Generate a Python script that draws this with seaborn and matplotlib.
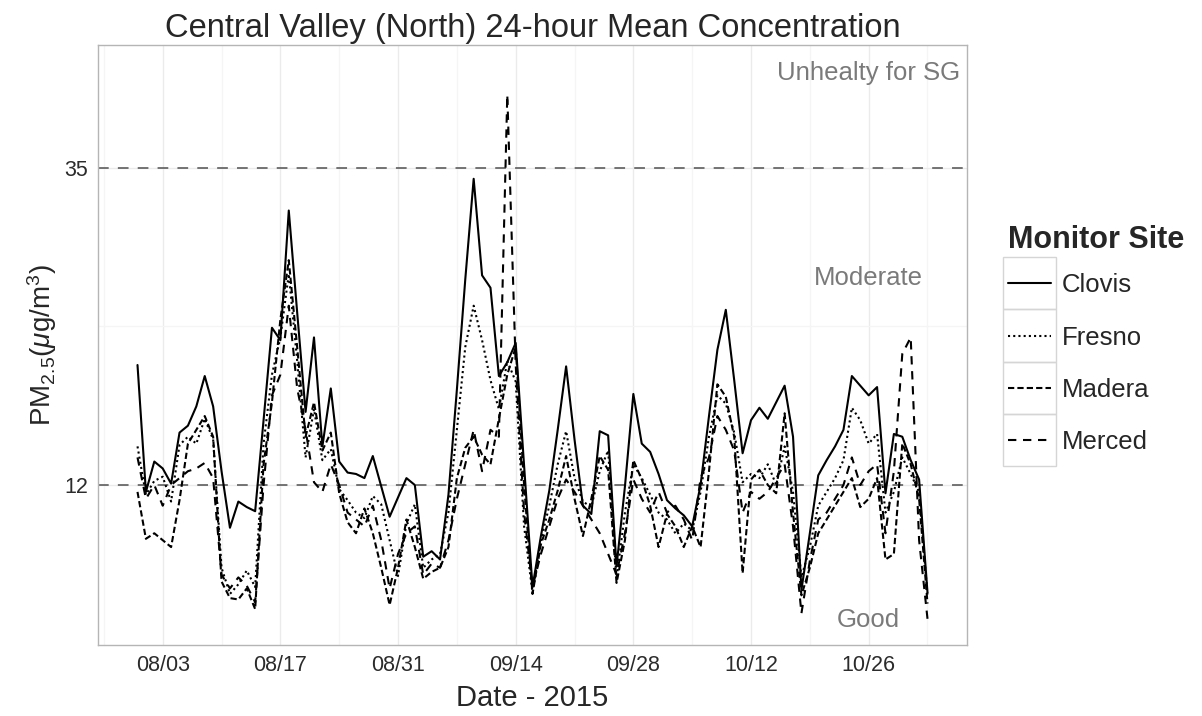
import numpy as np
import pandas as pd
import matplotlib
matplotlib.use("Agg")
import matplotlib.pyplot as plt
import matplotlib.dates as mdates
from matplotlib.lines import Line2D
from matplotlib.patches import Rectangle
import seaborn as sns

# daily 24-hour means, 07/31 - 11/02 2015
dates = pd.date_range("2015-07-31", "2015-11-02", freq="D")

clovis = [20.7, 11.5, 13.7, 13.2, 12.1, 15.8, 16.3, 17.7, 19.9, 17.7,
          13.0, 8.9, 10.8, 10.4, 10.1, 16.7, 23.4, 22.5, 31.9, 24.5,
          17.3, 22.7, 14.8, 19.0, 13.7, 12.9, 12.8, 12.5, 14.1, 11.9,
          9.7, 11.1, 12.5, 12.0, 6.8, 7.2, 6.6, 11.3, 18.9, 26.9,
          34.2, 27.2, 26.3, 19.9, 20.9, 22.3, 13.4, 4.6, 8.3, 11.6,
          16.0, 20.6, 15.3, 10.5, 9.9, 15.9, 15.6, 6.1, 11.9, 18.6,
          15.0, 14.4, 12.8, 10.9, 10.3, 9.8, 9.0, 12.0, 17.0, 21.8,
          24.7, 19.6, 14.3, 16.7, 17.6, 16.8, 18.0, 19.2, 15.5, 4.4,
          8.5, 12.7, 13.8, 14.8, 16.0, 19.9, 19.2, 18.5, 19.1, 11.4,
          15.7, 15.5, 13.8, 12.4, 4.2]
fresno = [14.8, 11.3, 12.3, 12.6, 10.8, 14.9, 15.5, 15.0, 16.8, 15.3,
          6.0, 4.1, 4.8, 5.8, 4.6, 15.0, 20.0, 22.7, 27.3, 21.0,
          14.0, 17.5, 13.8, 14.6, 11.7, 10.9, 10.0, 9.6, 11.2, 10.6,
          8.0, 5.4, 9.2, 10.6, 6.0, 6.6, 7.0, 10.0, 16.0, 22.0,
          25.0, 22.5, 19.6, 17.5, 21.0, 19.5, 9.0, 4.2, 8.0, 10.5,
          13.5, 15.9, 12.5, 10.8, 10.4, 13.0, 14.5, 5.2, 10.0, 13.5,
          12.5, 11.3, 10.0, 9.5, 8.5, 9.2, 8.7, 11.5, 15.5, 18.5,
          17.9, 15.8, 12.2, 12.8, 12.5, 13.5, 12.0, 14.8, 11.5, 5.3,
          7.5, 10.5, 11.5, 12.5, 13.8, 17.6, 16.7, 15.0, 15.7, 10.0,
          11.5, 14.0, 12.8, 11.5, 4.0]
madera = [11.5, 8.1, 8.5, 8.0, 7.5, 10.9, 15.0, 16.0, 17.0, 15.5,
          5.0, 3.8, 3.7, 4.5, 3.0, 13.5, 18.0, 24.0, 28.3, 22.0,
          15.5, 18.0, 14.5, 15.8, 11.4, 9.3, 8.5, 10.3, 8.5, 6.0,
          3.3, 6.0, 9.5, 7.5, 5.2, 5.7, 6.0, 7.5, 12.5, 14.7,
          15.5, 14.2, 13.5, 16.8, 20.0, 22.0, 12.0, 4.1, 7.7, 9.5,
          11.6, 14.1, 11.0, 8.3, 11.0, 14.1, 13.1, 4.9, 8.0, 13.8,
          12.4, 10.5, 7.5, 9.9, 9.0, 7.5, 9.0, 7.5, 13.0, 19.3,
          18.4, 15.5, 5.6, 12.4, 13.1, 12.0, 11.4, 17.2, 10.0, 4.0,
          6.0, 8.5, 9.5, 10.5, 11.5, 12.5, 10.4, 11.0, 12.5, 6.6,
          7.0, 15.0, 13.5, 11.0, 3.4]
merced = [14.0, 11.0, 12.0, 10.5, 12.0, 12.5, 13.0, 13.2, 13.6, 12.5,
          5.5, 4.5, 5.3, 4.7, 3.5, 12.0, 18.5, 20.0, 25.0, 19.0,
          16.0, 12.2, 11.5, 13.5, 12.0, 10.0, 9.5, 9.0, 10.5, 8.0,
          4.5, 7.0, 8.5, 9.0, 5.5, 6.3, 6.0, 8.0, 11.0, 13.5,
          16.0, 13.0, 16.0, 15.5, 40.3, 20.7, 10.0, 4.6, 7.0, 9.0,
          11.0, 12.4, 11.5, 10.5, 9.5, 8.5, 7.0, 5.5, 8.5, 12.4,
          11.0, 10.0, 11.5, 10.0, 10.5, 9.5, 8.0, 12.5, 14.0, 17.0,
          16.0, 14.5, 10.0, 11.5, 11.0, 11.5, 12.5, 13.5, 9.0, 2.7,
          6.5, 9.5, 10.0, 11.0, 12.0, 14.0, 12.0, 13.0, 13.5, 8.5,
          13.0, 21.5, 22.7, 8.0, 2.3]

sites = ["Clovis", "Fresno", "Madera", "Merced"]
thresholds = [12, 35]
zone_labels = ["Unhealty for SG", "Moderate", "Good"]
zone_y = [41.9, 27, 2.2]

df = pd.DataFrame({"Date": list(dates) * 4,
                   "PM25": clovis + fresno + madera + merced,
                   "Monitor Site": np.repeat(sites, len(dates))})

site_dashes = {"Clovis": "", "Fresno": (1, 1.5), "Madera": (3.0, 1.5), "Merced": (4.0, 3.2)}

sns.set_style("white")
plt.rcParams["font.family"] = ["Liberation Sans", "DejaVu Sans"]
plt.rcParams["mathtext.fontset"] = "custom"
plt.rcParams["mathtext.rm"] = "Liberation Sans"
plt.rcParams["mathtext.it"] = "Liberation Sans:italic"

fig = plt.figure(figsize=(12.02, 7.16), dpi=100)
ax = fig.add_axes([98 / 1202, 1 - 645 / 716, 869 / 1202, 600 / 716])

for y in thresholds:
    ax.axhline(y, color="#505050", lw=1.1, dashes=(7, 6), zorder=1)

sns.lineplot(data=df, x="Date", y="PM25", style="Monitor Site", dashes=site_dashes,
             color="black", lw=1.5, legend=False, ax=ax, zorder=3)

pad = pd.Timedelta(days=4.7)
ax.set_xlim(dates[0] - pad, dates[-1] + pad)
ax.set_ylim(0.4, 43.9)

ax.set_xticks(pd.date_range("2015-08-03", "2015-10-26", freq="14D"))
ax.set_xticks(pd.date_range("2015-07-27", "2015-11-02", freq="14D"), minor=True)
ax.xaxis.set_major_formatter(mdates.DateFormatter("%m/%d"))
ax.set_yticks(thresholds)
ax.set_yticks([23.5], minor=True)

ax.grid(True, which="major", color="#ebebeb", lw=1.0)
ax.grid(True, which="minor", color="#f5f5f5", lw=0.9)
ax.set_axisbelow(True)
for s in ax.spines.values():
    s.set_color("#b5b5b5")
    s.set_linewidth(1.0)

ax.tick_params(axis="both", which="major", length=4, width=1, color="#444444",
               labelsize=15.5, labelcolor="#2b2b2b", pad=3)
ax.tick_params(axis="both", which="minor", length=0)

ax.set_xlabel("Date - 2015", fontsize=21, labelpad=6)
ax.set_ylabel(r"PM$_{2.5}$($\mu$g/m$^3$)", fontsize=20, labelpad=4)
ax.set_title("Central Valley (North) 24-hour Mean Concentration", fontsize=23.5, pad=6)

ann_x = pd.Timestamp("2015-10-26")
for lab, yy in zip(zone_labels, zone_y):
    ax.text(ann_x, yy, lab, ha="center", va="center", fontsize=18.5, color="#7a7a7a")

handles = [Line2D([], [], color="black", lw=1.5,
                  dashes=site_dashes[s] if site_dashes[s] else (None, None)) for s in sites]
leg = fig.legend(handles, sites, title="Monitor Site", loc="upper left",
                 bbox_to_anchor=(998 / 1202, 1 - 215 / 716), frameon=False,
                 prop={"size": 18.5}, title_fontproperties={"size": 22, "weight": "bold"},
                 handlelength=1.65, handletextpad=0.45, labelspacing=1.1,
                 alignment="left", borderaxespad=0)
leg._legend_box.sep = 13

# grey key boxes around each legend sample, like the ggplot legend keys
fig.canvas.draw()
r = fig.canvas.get_renderer()
boxes = [ln.get_window_extent(r) for ln in leg.get_lines()]
centers = [(bb.y0 + bb.y1) / 2 for bb in boxes]
step = abs(centers[0] - centers[1])
for bb, cy in zip(boxes, centers):
    rect = Rectangle((bb.x0 - 5, cy - step / 2), bb.width + 10, step, transform=None,
                     fill=False, edgecolor="#d5d5d5", lw=1.0)
    fig.add_artist(rect)

fig.savefig("out.png", dpi=100)
